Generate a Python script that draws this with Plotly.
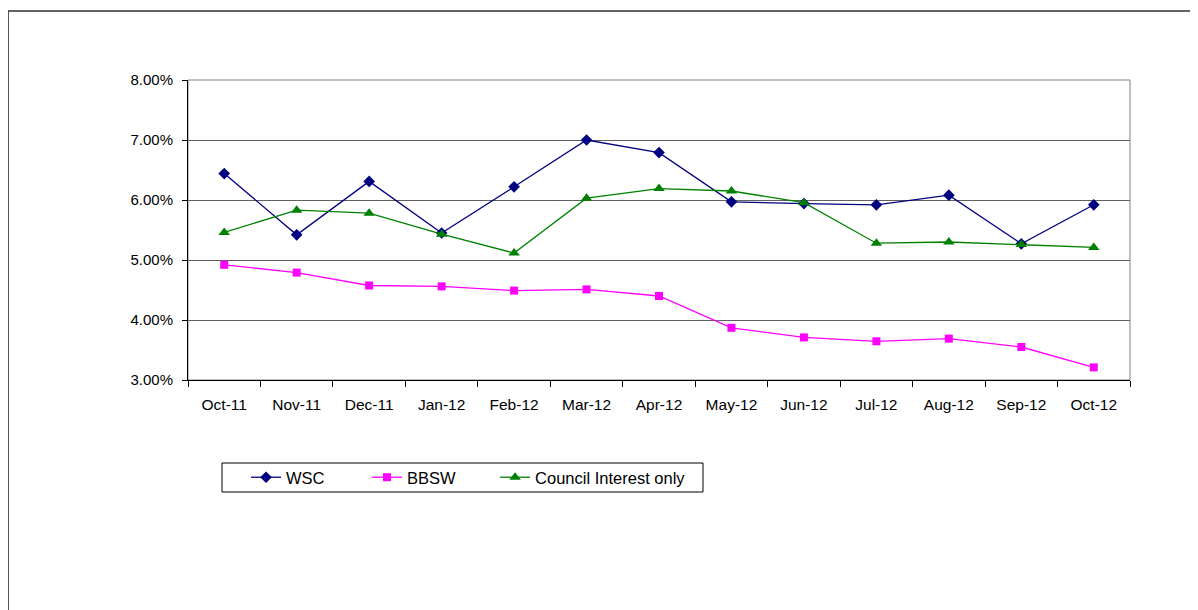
import plotly.graph_objects as go

# Monthly rates (%)
months = ["Oct-11", "Nov-11", "Dec-11", "Jan-12", "Feb-12", "Mar-12", "Apr-12",
          "May-12", "Jun-12", "Jul-12", "Aug-12", "Sep-12", "Oct-12"]
wsc = [6.44, 5.42, 6.31, 5.45, 6.22, 7.00, 6.79, 5.97, 5.94, 5.92, 6.08, 5.27, 5.92]
bbsw = [4.92, 4.79, 4.575, 4.56, 4.49, 4.51, 4.40, 3.87, 3.71, 3.645, 3.69, 3.55, 3.21]
council = [5.46, 5.83, 5.78, 5.43, 5.115, 6.03, 6.19, 6.15, 5.955, 5.28, 5.30, 5.26, 5.21]
y_ticks = [3, 4, 5, 6, 7, 8]

FONT = "Liberation Sans, Arial, sans-serif"

fig = go.Figure()

fig.add_trace(go.Scatter(
    x=months, y=wsc, name="WSC", mode="lines+markers", legend="legend",
    line=dict(color="#000080", width=1.3),
    marker=dict(symbol="diamond", size=9, color="#000080"),
))
fig.add_trace(go.Scatter(
    x=months, y=bbsw, name="BBSW", mode="lines+markers", legend="legend2",
    line=dict(color="#FF00FF", width=1.3),
    marker=dict(symbol="square", size=8, color="#FF00FF"),
))
fig.add_trace(go.Scatter(
    x=months, y=council, name="Council Interest only", mode="lines+markers",
    legend="legend3",
    line=dict(color="#008000", width=1.3),
    marker=dict(symbol="triangle-up", size=10, color="#008000"),
))

# plot area border (gray), outer chart frame and the legend box
fig.add_shape(type="rect", xref="paper", yref="paper", x0=0, x1=1, y0=0, y1=1,
              line=dict(color="#808080", width=1), layer="below")
fig.add_shape(type="rect", xref="paper", yref="paper",
              x0=-0.191, x1=1.3, y0=-1.2, y1=1.23,
              line=dict(color="#303030", width=1.5))
fig.add_shape(type="rect", xref="paper", yref="paper",
              x0=0.0361, x1=0.5467, y0=-0.3733, y1=-0.2767,
              line=dict(color="black", width=1))

leg = dict(orientation="h", yanchor="middle", y=-0.325, xanchor="left",
           borderwidth=0, bgcolor="rgba(0,0,0,0)", font=dict(size=16.5))

fig.update_layout(
    width=1190, height=602,
    margin=dict(l=180, r=68, t=72, b=230),
    paper_bgcolor="white", plot_bgcolor="white",
    font=dict(family=FONT, size=13, color="black"),
    showlegend=True,
    legend=dict(leg, x=0.0616),
    legend2=dict(leg, x=0.190),
    legend3=dict(leg, x=0.326),
    xaxis=dict(
        type="category", range=[-0.5, 12.5],
        showline=True, linecolor="black", linewidth=1,
        ticks="outside", ticklen=6, tickcolor="black", tickson="boundaries",
        ticklabelstandoff=10, tickfont=dict(size=15.5),
        showgrid=False, zeroline=False,
    ),
    yaxis=dict(
        range=[3, 8], tickvals=y_ticks,
        ticktext=[f"{v:.2f}%" for v in y_ticks],
        showline=True, linecolor="black", linewidth=1,
        ticks="outside", ticklen=5, tickcolor="black",
        ticklabelstandoff=6, tickfont=dict(size=15),
        showgrid=True, gridcolor="#606060", gridwidth=1, zeroline=False,
    ),
)

fig.write_html("out.html")
